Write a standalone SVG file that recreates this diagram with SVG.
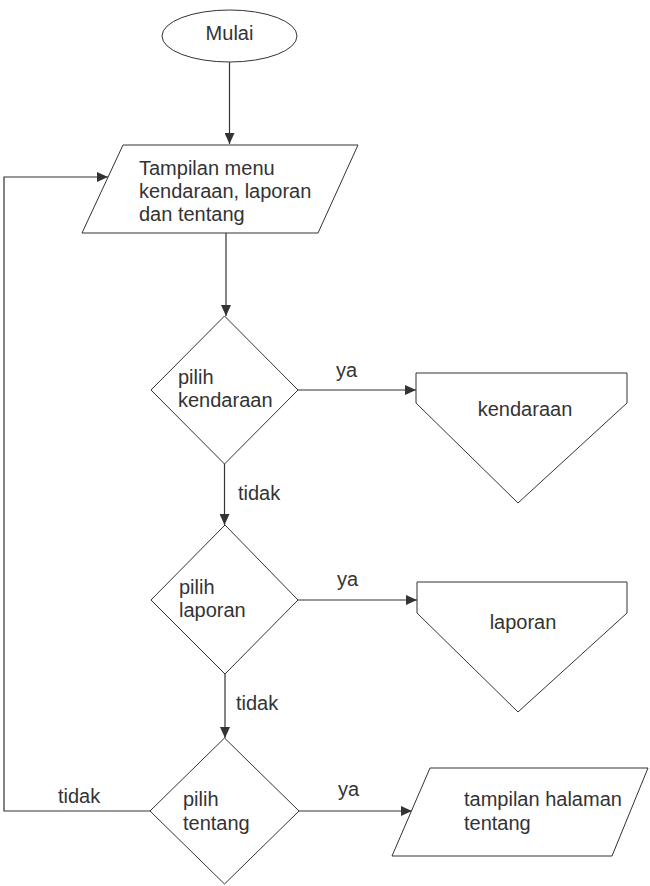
<svg xmlns="http://www.w3.org/2000/svg" width="650" height="886" viewBox="0 0 650 886">
<style>
.shape{fill:#fff;stroke:#333;stroke-width:1}
.conn{fill:none;stroke:#333;stroke-width:1.2}
text{font-family:"Liberation Sans",Arial,sans-serif;font-size:20px;fill:#333}
.c{text-anchor:middle}
</style>
<defs>
<marker id="arr" markerUnits="userSpaceOnUse" markerWidth="12" markerHeight="10" refX="11" refY="5" orient="auto">
<path d="M0,0 L11,5 L0,10 Z" fill="#333"/>
</marker>
</defs>
<rect width="650" height="886" fill="#fff"/>
<g id="connectors">
<path class="conn" d="M229.5 62 V144" marker-end="url(#arr)"/>
<path class="conn" d="M226 233 V316" marker-end="url(#arr)"/>
<path class="conn" d="M298 390 H416" marker-end="url(#arr)"/>
<path class="conn" d="M224.5 464 V525" marker-end="url(#arr)"/>
<path class="conn" d="M298 600 H417" marker-end="url(#arr)"/>
<path class="conn" d="M225 674 V738" marker-end="url(#arr)"/>
<path class="conn" d="M299 811 H412" marker-end="url(#arr)"/>
<path class="conn" d="M150 811 H4 V177 H108" marker-end="url(#arr)"/>
<text x="336" y="377">ya</text>
<text x="238" y="500">tidak</text>
<text x="337" y="586">ya</text>
<text x="236" y="710">tidak</text>
<text x="58" y="803">tidak</text>
<text x="338" y="796">ya</text>
</g>
<g id="mulai">
<ellipse class="shape" cx="229.5" cy="36" rx="67.5" ry="26"/>
<text class="c" x="229.5" y="40">Mulai</text>
</g>
<g id="tampilan-menu">
<polygon class="shape" points="123,145 358,145 318,233 82,233"/>
<text x="139" y="175">Tampilan menu</text>
<text x="139" y="198">kendaraan, laporan</text>
<text x="139" y="221">dan tentang</text>
</g>
<g id="pilih-kendaraan">
<polygon class="shape" points="224.5,316 298,390 224.5,464 151,390"/>
<text x="178" y="384">pilih</text>
<text x="178" y="407">kendaraan</text>
</g>
<g id="kendaraan">
<polygon class="shape" points="416,373 627,373 627,403 518,503 416,403"/>
<text class="c" x="525" y="416">kendaraan</text>
</g>
<g id="pilih-laporan">
<polygon class="shape" points="225,525 298,600 225,674 151,600"/>
<text x="179" y="594">pilih</text>
<text x="179" y="617">laporan</text>
</g>
<g id="laporan">
<polygon class="shape" points="417,582 627,582 627,613 518,712 417,613"/>
<text class="c" x="523" y="629">laporan</text>
</g>
<g id="pilih-tentang">
<polygon class="shape" points="224.5,738 299,811 224.5,884 150,811"/>
<text x="183" y="806">pilih</text>
<text x="183" y="830">tentang</text>
</g>
<g id="tampilan-tentang">
<polygon class="shape" points="430,768 648,768 612,856 392,856"/>
<text x="464" y="806">tampilan halaman</text>
<text x="464" y="830">tentang</text>
</g>
</svg>
